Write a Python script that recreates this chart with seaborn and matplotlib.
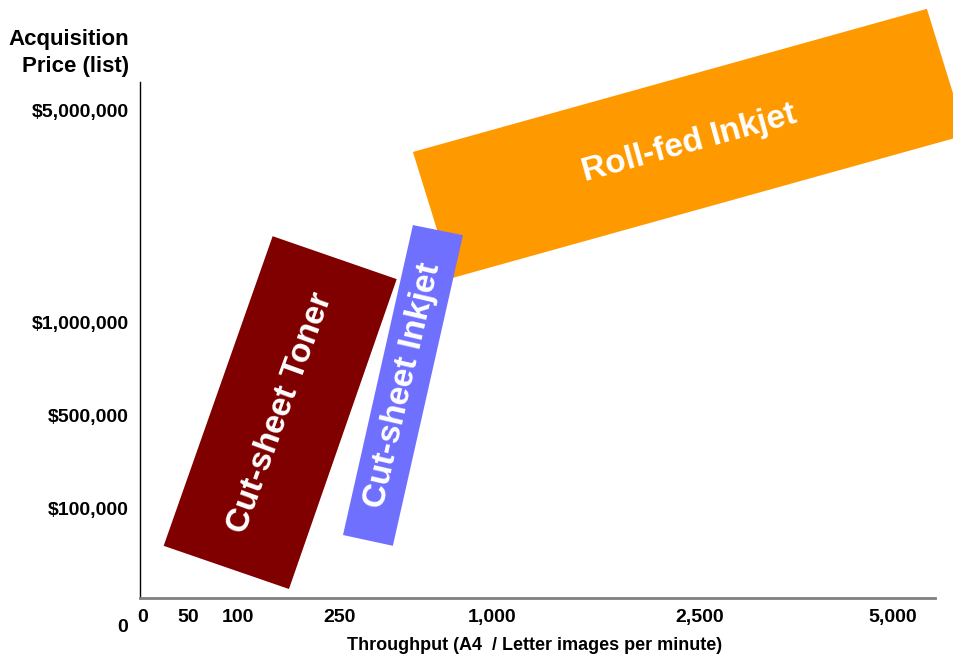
import numpy as np
import seaborn as sns
import matplotlib.pyplot as plt
from matplotlib.patches import Polygon

# axis ticks (real units)
x_ticks = [0, 50, 100, 250, 1000, 2500, 5000]
x_tick_labels = ["0", "50", "100", "250", "1,000", "2,500", "5,000"]
y_ticks = [100000, 500000, 1000000, 5000000]
y_tick_labels = ["$100,000", "$500,000", "$1,000,000", "$5,000,000"]

# segment boxes: corners as (images per minute, list price $)
segments = ["Roll-fed Inkjet", "Cut-sheet Toner", "Cut-sheet Inkjet"]
roll_fed_ppm = [610, 5440, 5945, 803]
roll_fed_price = [4210000, 6910000, 4530000, 1830000]
toner_ppm = [151, 530, 175, 23]
toner_price = [2620000, 1810000, 10000, 58000]
cs_inkjet_ppm = [610, 857, 511, 265]
cs_inkjet_price = [2830000, 2640000, 58000, 70000]

colors = {"Roll-fed Inkjet": "#FF9900", "Cut-sheet Toner": "#800000", "Cut-sheet Inkjet": "#7070FF"}
angles = {"Roll-fed Inkjet": 15.5, "Cut-sheet Toner": 70, "Cut-sheet Inkjet": 77}


def piecewise(xp, fp):
    # uneven axis: linear between tick marks, extrapolated beyond the ends
    xp = np.asarray(xp, float)
    fp = np.asarray(fp, float)

    def f(v):
        v = np.asarray(v, float)
        out = np.interp(v, xp, fp)
        hi_slope = (fp[-1] - fp[-2]) / (xp[-1] - xp[-2])
        lo_slope = (fp[1] - fp[0]) / (xp[1] - xp[0])
        out = np.where(v > xp[-1], fp[-1] + (v - xp[-1]) * hi_slope, out)
        out = np.where(v < xp[0], fp[0] + (v - xp[0]) * lo_slope, out)
        return out
    return f


# where each tick sits along the axis
x_pos = [3, 48, 98, 200, 352, 560, 753]
y_vals = [0] + y_ticks
y_pos = [0, 90, 183, 276, 488]

sns.set_theme(style="white")
plt.rcParams["font.family"] = ["Liberation Sans", "DejaVu Sans"]
plt.rcParams["text.color"] = "black"
plt.rcParams["axes.labelcolor"] = "black"
plt.rcParams["xtick.color"] = "black"
plt.rcParams["ytick.color"] = "black"

fig = plt.figure(figsize=(9.54, 6.55), dpi=100)
ax = fig.add_axes([140 / 954, 57 / 655, 795 / 954, 516 / 655])

ax.set_xscale("function", functions=(piecewise(x_ticks, x_pos), piecewise(x_pos, x_ticks)))
ax.set_yscale("function", functions=(piecewise(y_vals, y_pos), piecewise(y_pos, y_vals)))
ax.set_xlim(-3.3, 5545)
ax.set_ylim(0, 5530000)

boxes = {
    "Roll-fed Inkjet": (roll_fed_ppm, roll_fed_price),
    "Cut-sheet Toner": (toner_ppm, toner_price),
    "Cut-sheet Inkjet": (cs_inkjet_ppm, cs_inkjet_price),
}
for name in segments:
    xs, ys = boxes[name]
    corners = np.column_stack([xs, ys])
    ax.add_patch(Polygon(corners, closed=True, facecolor=colors[name],
                         edgecolor="none", clip_on=False, zorder=2))
    disp = ax.transData.transform(corners).mean(axis=0)
    cx, cy = ax.transData.inverted().transform(disp)
    ax.text(cx, cy, name, rotation=angles[name], rotation_mode="anchor",
            ha="center", va="center", color="white", fontsize=24,
            fontweight="bold", zorder=3)

ax.set_xticks(x_ticks)
ax.set_xticklabels(x_tick_labels)
ax.set_yticks(y_ticks)
ax.set_yticklabels(y_tick_labels)
ax.tick_params(axis="both", length=0, labelsize=14)
ax.tick_params(axis="x", pad=8)
ax.tick_params(axis="y", pad=8)
for lbl in ax.get_xticklabels() + ax.get_yticklabels():
    lbl.set_fontweight("bold")
ax.minorticks_off()

for side in ["top", "right"]:
    ax.spines[side].set_visible(False)
ax.spines["left"].set_color("black")
ax.spines["left"].set_linewidth(1.0)
ax.spines["bottom"].set_color("#808080")
ax.spines["bottom"].set_linewidth(2.0)

ax.set_xlabel("Throughput (A4  / Letter images per minute)", fontsize=13,
              fontweight="bold")
ax.xaxis.set_label_coords(0.496, -0.075)

fig.text(129 / 954, 1 - 53 / 655, "Acquisition\nPrice (list)", ha="right", va="center",
         multialignment="right", fontsize=16, fontweight="bold", linespacing=1.4)
fig.text(123 / 954, 1 - 627 / 655, "0", ha="center", va="center", fontsize=14,
         fontweight="bold")

fig.savefig("out.png", dpi=100)
